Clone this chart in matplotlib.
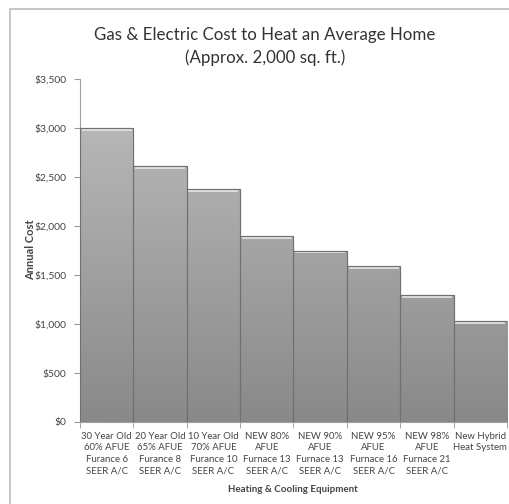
import numpy as np
import matplotlib
matplotlib.use("Agg")
import matplotlib.pyplot as plt
from matplotlib.patches import Rectangle
from matplotlib.colors import LinearSegmentedColormap

plt.rcParams["font.family"] = ["Lato", "DejaVu Sans"]

equipment = [
    "30 Year Old\n60% AFUE\nFurance 6\nSEER A/C",
    "20 Year Old\n65% AFUE\nFurance 8\nSEER A/C",
    "10 Year Old\n70% AFUE\nFurance 10\nSEER A/C",
    "NEW 80%\nAFUE\nFurnace 13\nSEER A/C",
    "NEW 90%\nAFUE\nFurnace 13\nSEER A/C",
    "NEW 95%\nAFUE\nFurnace 16\nSEER A/C",
    "NEW 98%\nAFUE\nFurnace 21\nSEER A/C",
    "New Hybrid\nHeat System\n\n",
]
annual_cost = [3000, 2615, 2375, 1900, 1750, 1590, 1300, 1030]
y_ticks = [0, 500, 1000, 1500, 2000, 2500, 3000, 3500]

W, H = 510, 504
fig = plt.figure(figsize=(W / 100, H / 100), dpi=100)

# outer chart frame (cut off at right/bottom like the screenshot)
fig.patches.append(Rectangle((10 / W, -0.01), 1.0, 1 - 9 / H + 0.01,
                             transform=fig.transFigure, fill=False,
                             edgecolor="#bcbcbc", linewidth=1.2))

ax = fig.add_axes([80 / W, 1 - 422 / H, 427 / W, 343 / H])
x = np.arange(len(annual_cost))
bars = ax.bar(x, annual_cost, width=1.0, color="#a8a8a8",
              edgecolor="#7a7a7a", linewidth=0.8, zorder=2)

# vertical grey gradient clipped to each bar + bevel
cmap = LinearSegmentedColormap.from_list("g", ["#898989", "#bebebe"])
grad = np.linspace(0, 1, 256).reshape(-1, 1)
for b in bars:
    x0, w, h = b.get_x(), b.get_width(), b.get_height()
    im = ax.imshow(grad, cmap=cmap, origin="lower", aspect="auto",
                   extent=[x0, x0 + w, 0, 3500], zorder=2.5)
    im.set_clip_path(b)
    ax.plot([x0 + 0.05, x0 + w - 0.05], [h - 20] * 2,
            color="#e2e2e2", linewidth=1.3, zorder=3)
    ax.add_patch(Rectangle((x0, 0), w, h, fill=False,
                           edgecolor="#707070", linewidth=0.8, zorder=3))

ax.set_xlim(-0.5, len(annual_cost) - 0.5)
ax.set_ylim(0, 3500)
ax.set_yticks(y_ticks)
ax.set_yticklabels([f"${v:,}" for v in y_ticks], fontsize=7.4, color="#444444")
ax.set_xticks(x)
ax.set_xticklabels(equipment, fontsize=6.9, color="#444444", linespacing=1.38,
                   va="top")
ax.set_xticks(np.arange(-0.5, len(annual_cost)), minor=True)
ax.tick_params(axis="x", which="major", length=0, pad=7)
ax.tick_params(axis="x", which="minor", length=4, color="#999999", direction="out")
ax.tick_params(axis="y", length=4, color="#999999", direction="out", pad=6)

for side in ["top", "right"]:
    ax.spines[side].set_visible(False)
ax.spines["left"].set_color("#a0a0a0")
ax.spines["bottom"].set_color("#a0a0a0")

fig.text(293 / W, 1 - 489 / H, "Heating & Cooling Equipment", ha="center",
         va="center", fontsize=7, fontweight="bold", color="#444444")
fig.text(31 / W, 1 - 250 / H, "Annual Cost", ha="center", va="center",
         rotation=90, fontsize=8, fontweight="bold", color="#444444")

fig.text(265 / W, 1 - 35 / H, "Gas & Electric Cost to Heat an Average Home",
         ha="center", va="center", fontsize=12.2, color="#333333")
fig.text(265 / W, 1 - 58 / H, "(Approx. 2,000 sq. ft.)",
         ha="center", va="center", fontsize=12.2, color="#333333")

fig.savefig("out.png", dpi=100)
